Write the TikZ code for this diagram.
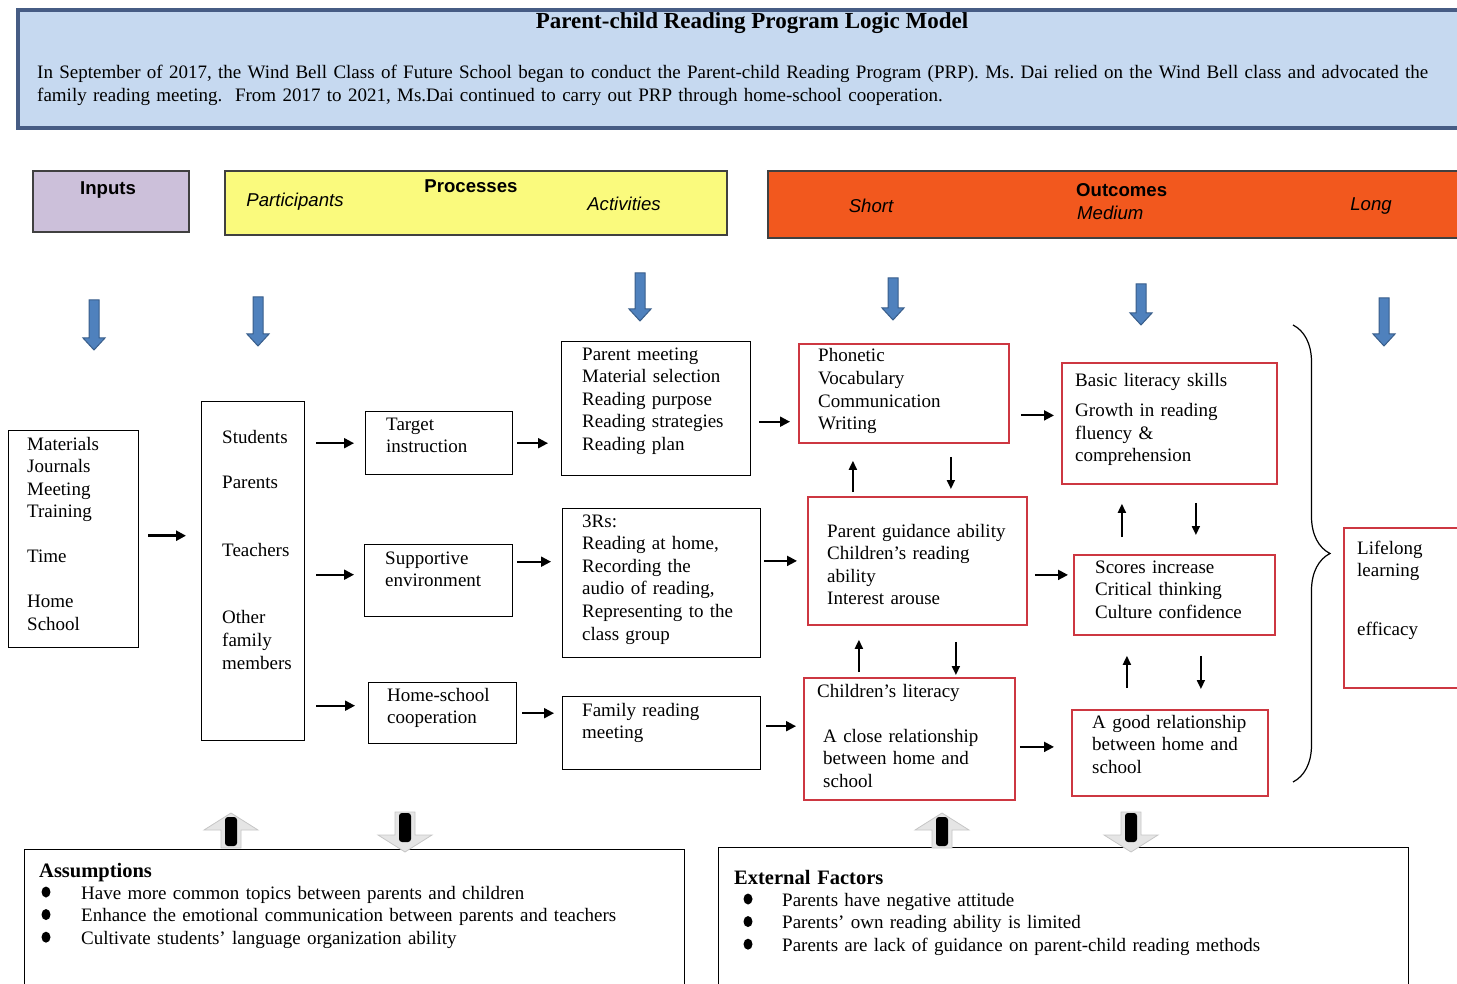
\documentclass[tikz,border=0pt]{standalone}
\usepackage{fontspec}
\setmainfont{Liberation Serif}
\setsansfont{Liberation Sans}
\usetikzlibrary{positioning,arrows.meta,decorations.pathreplacing}

\definecolor{bannerfill}{RGB}{198,217,240}
\definecolor{bannerline}{RGB}{70,92,132}
\definecolor{inputfill}{RGB}{204,192,218}
\definecolor{procfill}{RGB}{250,250,125}
\definecolor{outfill}{RGB}{242,88,30}
\definecolor{arrowblue}{RGB}{79,129,189}
\definecolor{arrowedge}{RGB}{56,93,138}
\definecolor{boxred}{RGB}{205,55,65}

\begin{document}
\frenchspacing
\begin{tikzpicture}
        [
        x=1pt, y=-1pt,
        box/.style n args={2}{draw=black, line width=1.4pt, anchor=north west,
          inner sep=0pt, minimum width=#1, minimum height=#2},
        redbox/.style n args={2}{box={#1}{#2}, draw=boxred, line width=1.8pt},
        headbox/.style n args={3}{box={#1}{#2}, draw=black!75, line width=1.6pt, fill=#3},
        txt/.style={anchor=base west, inner sep=0pt, text width=300pt, align=left,
          font=\fontsize{19}{22.6}\selectfont},
        hd/.style={anchor=base, inner sep=0pt, font=\sffamily\fontsize{18.6}{22}\selectfont},
        flow/.style={-{Triangle[length=10pt,width=10pt]}, line width=2pt},
        updown/.style={-{Triangle[length=9pt,width=8pt]}, line width=1.8pt}
        ]
        \useasboundingbox (0,0) rectangle (1457,984);
        \clip (0,0) rectangle (1457,984);

        % Title banner
        \node[box={1454pt}{118pt}, fill=bannerfill, draw=bannerline, line width=4pt] (banner) at (16,8) {};
        \node[anchor=base, inner sep=0pt, font=\bfseries\fontsize{23}{26}\selectfont] (title) at (752,29)
          {Parent-child Reading Program Logic Model};
        \node[txt, text width=1430pt] (intro) at (37,79)
          {In September of 2017, the Wind Bell Class of Future School began to conduct the Parent-child Reading Program (PRP). Ms. Dai relied on the Wind Bell class and advocated the\\
           family reading meeting.\ \ From 2017 to 2021, Ms.Dai continued to carry out PRP through home-school cooperation.};

        % Column headers
        \node[headbox={156pt}{61pt}{inputfill}] (inp) at (32,170) {};
        \node[headbox={502pt}{64pt}{procfill}] (prc) at (224,170) {};
        \node[headbox={703pt}{67pt}{outfill}] (out) at (767,170) {};
        \node[hd, font=\sffamily\bfseries\fontsize{18.6}{22}\selectfont] (inpT) at (108,195) {Inputs};
        \node[hd, font=\sffamily\bfseries\fontsize{18.6}{22}\selectfont] (prcT) at (471,193) {Processes};
        \node[hd, font=\sffamily\itshape\fontsize{18.6}{22}\selectfont] (parH) at (295,207) {Participants};
        \node[hd, font=\sffamily\itshape\fontsize{18.6}{22}\selectfont] (actH) at (624,211) {Activities};
        \node[hd, font=\sffamily\itshape\fontsize{18.6}{22}\selectfont] (shoH) at (871,213) {Short};
        \node[hd, anchor=base west, font=\sffamily\bfseries\fontsize{18.6}{22}\selectfont] (outT) at (1076,197) {Outcomes};
        \node[hd, anchor=base west, font=\sffamily\itshape\fontsize{18.6}{22}\selectfont] (medH) at (1077,220) {Medium};
        \node[hd, font=\sffamily\itshape\fontsize{18.6}{22}\selectfont] (lonH) at (1371,211) {Long};

        % Blue block arrows under the headers
        \foreach \x/\ya/\yb in {94/300/350, 258/297/346, 640/273/321, 893/278/320, 1141/284/325, 1384/298/346}
          \draw[fill=arrowblue, draw=arrowedge, line width=1pt]
            ({\x-5},\ya) -- ({\x+5},\ya) -- ({\x+5},{\yb-12}) -- ({\x+11},{\yb-12})
            -- (\x,\yb) -- ({\x-11},{\yb-12}) -- ({\x-5},{\yb-12}) -- cycle;

        % Inputs and participants
        \node[box={130pt}{217pt}] (mat) at (8,430) {};
        \node[txt] (matT) at (27,450)
          {Materials\\Journals\\Meeting\\Training\\[22.3pt]Time\\[22.3pt]Home\\School};
        \node[box={103pt}{339pt}] (par) at (201,401) {};
        \node[txt] (parT) at (222,443)
          {Students\\[23pt]Parents\\[45pt]Teachers\\[45pt]Other\\family\\members};

        % Processes
        \node[box={147pt}{63pt}] (tgt) at (365,411) {};
        \node[txt] (tgtT) at (386,430) {Target\\instruction};
        \node[box={148pt}{72pt}] (sup) at (364,544) {};
        \node[txt] (supT) at (385,564) {Supportive\\environment};
        \node[box={148pt}{61pt}] (hsc) at (368,682) {};
        \node[txt] (hscT) at (387,701) {Home-school\\cooperation};

        % Activities
        \node[box={189pt}{134pt}] (pm) at (561,341) {};
        \node[txt] (pmT) at (582,360)
          {Parent meeting\\Material selection\\Reading purpose\\Reading strategies\\Reading plan};
        \node[box={198pt}{149pt}] (rr) at (562,508) {};
        \node[txt] (rrT) at (582,527)
          {3Rs:\\Reading at home,\\Recording the\\audio of reading,\\Representing to the\\class group};
        \node[box={198pt}{73pt}] (frm) at (562,696) {};
        \node[txt] (frmT) at (582,716) {Family reading\\meeting};

        % Short outcomes
        \node[redbox={210pt}{99pt}] (pho) at (798,343) {};
        \node[txt] (phoT) at (818,362) {Phonetic\\Vocabulary\\Communication\\Writing};
        \node[redbox={219pt}{128pt}] (pga) at (807,496) {};
        \node[txt] (pgaT) at (827,537)
          {Parent guidance ability\\Children's reading\\ability\\Interest arouse};
        \node[redbox={211pt}{122pt}] (chl) at (803,677) {};
        \node[txt] (chlT) at (817,697)
          {Children's literacy\\[22.6pt]\hspace*{6pt}A close relationship\\\hspace*{6pt}between home and\\\hspace*{6pt}school};

        % Medium outcomes
        \node[redbox={215pt}{121pt}] (bls) at (1061,362) {};
        \node[txt] (blsT) at (1075,387)
          {Basic literacy skills\\[7pt]Growth in reading\\fluency \&\\comprehension};
        \node[redbox={201pt}{80pt}] (sci) at (1073,554) {};
        \node[txt] (sciT) at (1095,573) {Scores increase\\Critical thinking\\Culture confidence};
        \node[redbox={196pt}{86pt}] (grh) at (1071,709) {};
        \node[txt] (grhT) at (1092,728) {A good relationship\\between home and\\school};

        % Long outcome
        \node[redbox={130pt}{160pt}] (lif) at (1343,527) {};
        \node[txt] (lifT) at (1357,554) {Lifelong\\learning\\[36pt]efficacy};
        \draw[decorate, decoration={brace, amplitude=37pt}, line width=1.2pt]
          (1293,325) -- (1293,782);

        % Horizontal flow
        \draw[flow, line width=3pt, shorten <=9pt, shorten >=15pt]
          ([yshift=3.5pt]mat.east) -- ([yshift=3.5pt]mat.east -| par.west);
        \draw[flow, shorten <=11pt, shorten >=11pt] (tgt.west -| par.east) -- (tgt.west);
        \draw[flow, shorten <=11pt, shorten >=10pt] ([yshift=6pt]sup.west -| par.east) -- ([yshift=6pt]sup.west);
        \draw[flow, shorten <=11pt, shorten >=13pt] ([yshift=7.5pt]hsc.west -| par.east) -- ([yshift=7.5pt]hsc.west);
        \draw[flow, shorten <=4pt, shorten >=13pt] (tgt.east) -- (tgt.east -| pm.west);
        \draw[flow, shorten <=4pt, shorten >=11pt] ([yshift=19pt]sup.east) -- ([yshift=19pt]sup.east -| rr.west);
        \draw[flow, shorten <=5pt, shorten >=8pt] (hsc.east) -- (hsc.east -| frm.west);
        \draw[flow, shorten <=8pt, shorten >=8pt] ([yshift=-13pt]pm.east) -- ([yshift=-13pt]pm.east -| pho.west);
        \draw[flow, shorten <=3pt, shorten >=10pt] (pga.west -| rr.east) -- (pga.west);
        \draw[flow, shorten <=5pt, shorten >=7pt] ([yshift=7pt]frm.east) -- ([yshift=7pt]frm.east -| chl.west);
        \draw[flow, shorten <=11pt, shorten >=7pt] ([yshift=8pt]bls.west -| pho.east) -- ([yshift=8pt]bls.west);
        \draw[flow, shorten <=7pt, shorten >=5pt] ([yshift=-14pt]pga.east) -- ([yshift=-14pt]pga.east -| sci.west);
        \draw[flow, shorten <=4pt, shorten >=17pt] ([yshift=-8pt]chl.east) -- ([yshift=-8pt]chl.east -| grh.west);

        % Up and down between outcomes
        \draw[updown, shorten <=4pt, shorten >=17pt] ([xshift=-64.5pt]pga.north) -- ([xshift=-64.5pt]pga.north |- pho.south);
        \draw[updown, shorten <=13pt, shorten >=7pt] ([xshift=47pt]pho.south) -- ([xshift=47pt]pho.south |- pga.north);
        \draw[updown, shorten <=5pt, shorten >=14pt] ([xshift=-50.5pt]chl.north) -- ([xshift=-50.5pt]chl.north |- pga.south);
        \draw[updown, shorten <=16pt, shorten >=2pt] ([xshift=38.5pt]pga.south) -- ([xshift=38.5pt]pga.south |- chl.north);
        \draw[updown, shorten <=17pt, shorten >=19pt] ([xshift=-52.5pt]sci.north) -- ([xshift=-52.5pt]sci.north |- bls.south);
        \draw[updown, shorten <=18pt, shorten >=19pt] ([xshift=26.5pt]bls.south) -- ([xshift=26.5pt]bls.south |- sci.north);
        \draw[updown, shorten <=21pt, shorten >=20pt] ([xshift=-43pt]grh.north) -- ([xshift=-43pt]grh.north |- sci.south);
        \draw[updown, shorten <=20pt, shorten >=20pt] ([xshift=26.5pt]sci.south) -- ([xshift=26.5pt]sci.south |- grh.north);

        % Assumptions and external factors
        \node[box={660pt}{200pt}] (asm) at (24,849) {};
        \node[txt, font=\bfseries\fontsize{20.5}{22.6}\selectfont] (asmT) at (39,877) {Assumptions};
        \node[txt, text width=600pt] (asmL) at (81,899)
          {Have more common topics between parents and children\\
           Enhance the emotional communication between parents and teachers\\
           Cultivate students' language organization ability};
        \node[box={690pt}{200pt}] (ext) at (718,847) {};
        \node[txt, font=\bfseries\fontsize{20.5}{22.6}\selectfont] (extT) at (734,884) {External Factors};
        \node[txt, text width=620pt] (extL) at (782,906)
          {Parents have negative attitude\\
           Parents' own reading ability is limited\\
           Parents are lack of guidance on parent-child reading methods};
        % bullets
        \foreach \x/\y in {46/892, 46/914.6, 46/937.2, 748/899, 748/921.6, 748/944.2}
          \fill (\x,\y) ellipse [x radius=4.5, y radius=5.5];

        % Grey block arrows on the bottom boxes
        \foreach \x in {231, 942} {
          \draw[fill=gray!20, draw=gray!45, line width=0.8pt]
            (\x,813) -- ({\x+27},830) -- ({\x+10},830) -- ({\x+10},848)
            -- ({\x-10},848) -- ({\x-10},830) -- ({\x-27},830) -- cycle;
          \fill[black, rounded corners=3pt] ({\x-6},817) rectangle ({\x+6},846);
        }
        \foreach \x in {405, 1131} {
          \draw[fill=gray!20, draw=gray!45, line width=0.8pt]
            ({\x-10},812) -- ({\x+10},812) -- ({\x+10},835) -- ({\x+27},835)
            -- (\x,852) -- ({\x-27},835) -- ({\x-10},835) -- cycle;
          \fill[black, rounded corners=3pt] ({\x-6},813) rectangle ({\x+6},842);
        }
    \end{tikzpicture}
\end{document}
